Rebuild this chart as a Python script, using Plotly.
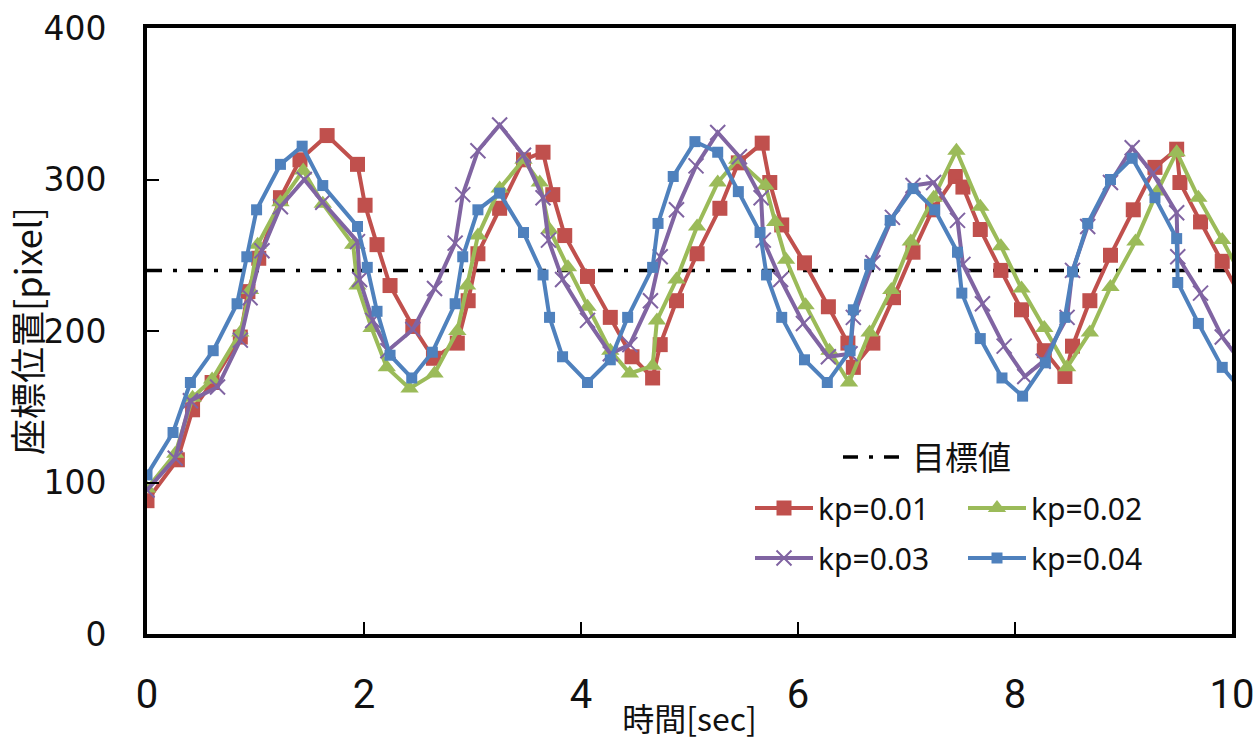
import plotly.graph_objects as go

# Target value (pixel coordinate)
target_value = 240
target_t = [0, 10]

# kp = 0.01
t_kp001 = [0.00, 0.28, 0.42, 0.60, 0.86, 0.93, 1.03, 1.23, 1.41, 1.66, 1.94, 2.01, 2.12, 2.24,
           2.45, 2.64, 2.86, 2.96, 3.05, 3.25, 3.47, 3.65, 3.74, 3.85, 4.06, 4.27, 4.47, 4.66,
           4.73, 4.88, 5.07, 5.28, 5.45, 5.67, 5.74, 5.85, 6.06, 6.28, 6.46, 6.51, 6.69, 6.88,
           7.06, 7.24, 7.45, 7.52, 7.68, 7.87, 8.06, 8.27, 8.46, 8.53, 8.69, 8.88, 9.09, 9.29,
           9.49, 9.52, 9.71, 9.91, 10.10]
y_kp001 = [88, 115, 148, 166, 196, 226, 248, 288, 313, 329, 310, 283, 257, 230,
           203, 182, 192, 220, 251, 281, 313, 318, 290, 263, 236, 209, 183, 169,
           191, 220, 251, 281, 311, 324, 298, 270, 245, 216, 192, 176, 192, 222,
           252, 280, 302, 295, 267, 240, 214, 187, 170, 190, 220, 250, 280, 308,
           320, 298, 272, 246, 220]

# kp = 0.02
t_kp002 = [0.00, 0.26, 0.42, 0.60, 0.86, 0.95, 1.02, 1.23, 1.44, 1.62, 1.90, 1.94, 2.07, 2.21,
           2.42, 2.65, 2.86, 2.95, 3.05, 3.25, 3.47, 3.62, 3.71, 3.88, 4.06, 4.27, 4.45, 4.66,
           4.70, 4.88, 5.07, 5.26, 5.44, 5.70, 5.79, 5.89, 6.07, 6.29, 6.47, 6.66, 6.86, 7.04,
           7.25, 7.46, 7.68, 7.87, 8.06, 8.27, 8.48, 8.69, 8.88, 9.11, 9.31, 9.49, 9.69, 9.91,
           10.10]
y_kp002 = [96, 119, 156, 168, 199, 227, 257, 285, 306, 284, 257, 230, 202, 176,
           162, 172, 200, 230, 263, 294, 313, 298, 267, 242, 216, 187, 172, 177,
           207, 234, 269, 298, 313, 296, 272, 247, 217, 187, 166, 199, 227, 259,
           288, 319, 282, 256, 228, 202, 176, 199, 229, 259, 292, 318, 288, 260,
           235]

# kp = 0.03
t_kp003 = [0.00, 0.26, 0.40, 0.65, 0.86, 0.95, 1.06, 1.23, 1.45, 1.62, 1.94, 1.96, 2.08, 2.22,
           2.45, 2.65, 2.84, 2.91, 3.05, 3.25, 3.47, 3.65, 3.70, 3.83, 4.06, 4.27, 4.45, 4.64,
           4.73, 4.88, 5.06, 5.26, 5.46, 5.66, 5.68, 5.84, 6.05, 6.28, 6.48, 6.51, 6.69, 6.87,
           7.06, 7.25, 7.47, 7.52, 7.70, 7.90, 8.09, 8.26, 8.48, 8.53, 8.67, 8.88, 9.08, 9.27,
           9.49, 9.50, 9.71, 9.91, 10.10]
y_kp003 = [95, 116, 154, 163, 194, 222, 253, 282, 300, 285, 259, 234, 207, 187,
           201, 228, 258, 290, 319, 336, 316, 288, 260, 234, 207, 185, 191, 220,
           249, 280, 309, 331, 315, 288, 260, 234, 205, 183, 185, 209, 245, 275,
           296, 298, 273, 244, 218, 190, 170, 180, 209, 240, 269, 298, 321, 304,
           278, 249, 225, 196, 178]

# kp = 0.04
t_kp004 = [0.00, 0.24, 0.40, 0.61, 0.83, 0.92, 1.01, 1.23, 1.43, 1.62, 1.94, 2.03, 2.12, 2.24,
           2.44, 2.63, 2.84, 2.91, 3.05, 3.25, 3.47, 3.65, 3.71, 3.83, 4.06, 4.27, 4.43, 4.66,
           4.71, 4.85, 5.05, 5.26, 5.45, 5.65, 5.71, 5.85, 6.06, 6.27, 6.48, 6.51, 6.66, 6.85,
           7.06, 7.26, 7.47, 7.51, 7.68, 7.88, 8.07, 8.28, 8.46, 8.53, 8.67, 8.88, 9.08, 9.29,
           9.49, 9.50, 9.69, 9.91, 10.10]
y_kp004 = [105, 133, 166, 187, 218, 249, 280, 310, 322, 296, 269, 242, 213, 184,
           169, 186, 218, 249, 280, 291, 265, 237, 209, 183, 166, 181, 209, 242,
           271, 302, 325, 318, 292, 265, 237, 209, 181, 166, 187, 214, 244, 273,
           294, 280, 252, 225, 195, 169, 157, 179, 209, 239, 271, 300, 314, 288,
           261, 232, 205, 176, 160]

series = [
    ("kp=0.01", t_kp001, y_kp001, "#C0504D", dict(symbol="square", size=15), "legend2"),
    ("kp=0.02", t_kp002, y_kp002, "#9BBB59", dict(symbol="triangle-up", size=16), "legend2"),
    ("kp=0.03", t_kp003, y_kp003, "#8064A2", dict(symbol="x-thin", size=15,
                                                   line=dict(width=2, color="#8064A2")), "legend3"),
    ("kp=0.04", t_kp004, y_kp004, "#4F81BD", dict(symbol="square", size=11), "legend3"),
]

fig = go.Figure()

fig.add_trace(go.Scatter(
    x=target_t, y=[target_value] * len(target_t), mode="lines", name="目標値",
    line=dict(color="black", width=3.5, dash="15px,11px,4px,11px"),
    legend="legend",
))

for name, t, y, color, marker, leg in series:
    fig.add_trace(go.Scatter(
        x=t, y=y, mode="lines+markers", name=name,
        line=dict(color=color, width=4),
        marker=dict(color=color, **marker),
        legend=leg,
    ))

legend_font = dict(family="Noto Sans, Noto Sans CJK JP", size=30, color="#111111")

fig.update_layout(
    width=1255, height=740,
    margin=dict(l=147, r=23, t=28, b=106),
    paper_bgcolor="white", plot_bgcolor="white",
    showlegend=True,
    legend=dict(x=(838 - 147) / 1085, y=(634 - 457) / 606, xref="paper", yref="paper",
                xanchor="left", yanchor="middle", bgcolor="rgba(0,0,0,0)",
                orientation="h", itemwidth=64,
                font=dict(family="Noto Sans CJK JP", size=33, color="#111111")),
    legend2=dict(x=(750 - 147) / 1085, y=(634 - 508) / 606, xanchor="left", yanchor="middle",
                 bgcolor="rgba(0,0,0,0)", orientation="h", itemwidth=58,
                 entrywidth=140, font=legend_font),
    legend3=dict(x=(750 - 147) / 1085, y=(634 - 558) / 606, xanchor="left", yanchor="middle",
                 bgcolor="rgba(0,0,0,0)", orientation="h", itemwidth=58,
                 entrywidth=140, font=legend_font),
)

fig.update_xaxes(
    range=[0, 10], tickvals=[0, 2, 4, 6, 8, 10], showgrid=False, zeroline=False,
    showline=True, linecolor="black", linewidth=4, mirror=True,
    ticks="inside", ticklen=12, tickwidth=2, tickcolor="black",
    ticklabelstandoff=22, ticklabeloverflow="allow", automargin=False,
    tickfont=dict(family="Roboto", size=40, color="#111111"),
    title=dict(text="時間[sec]", standoff=0,
               font=dict(family="Noto Sans CJK JP", size=32, color="#111111")),
)
fig.update_yaxes(
    range=[0, 400], tickvals=[0, 100, 200, 300, 400], showgrid=False, zeroline=False,
    showline=True, linecolor="black", linewidth=4, mirror=True,
    ticks="inside", ticklen=12, tickwidth=2, tickcolor="black",
    ticklabelstandoff=30, automargin=False,
    tickfont=dict(family="DejaVu Sans", size=33, color="#111111"),
    title=dict(text="座標位置[pixel]", standoff=8,
               font=dict(family="Noto Sans CJK JP", size=36, color="#111111")),
)

fig.write_html("out.html")
